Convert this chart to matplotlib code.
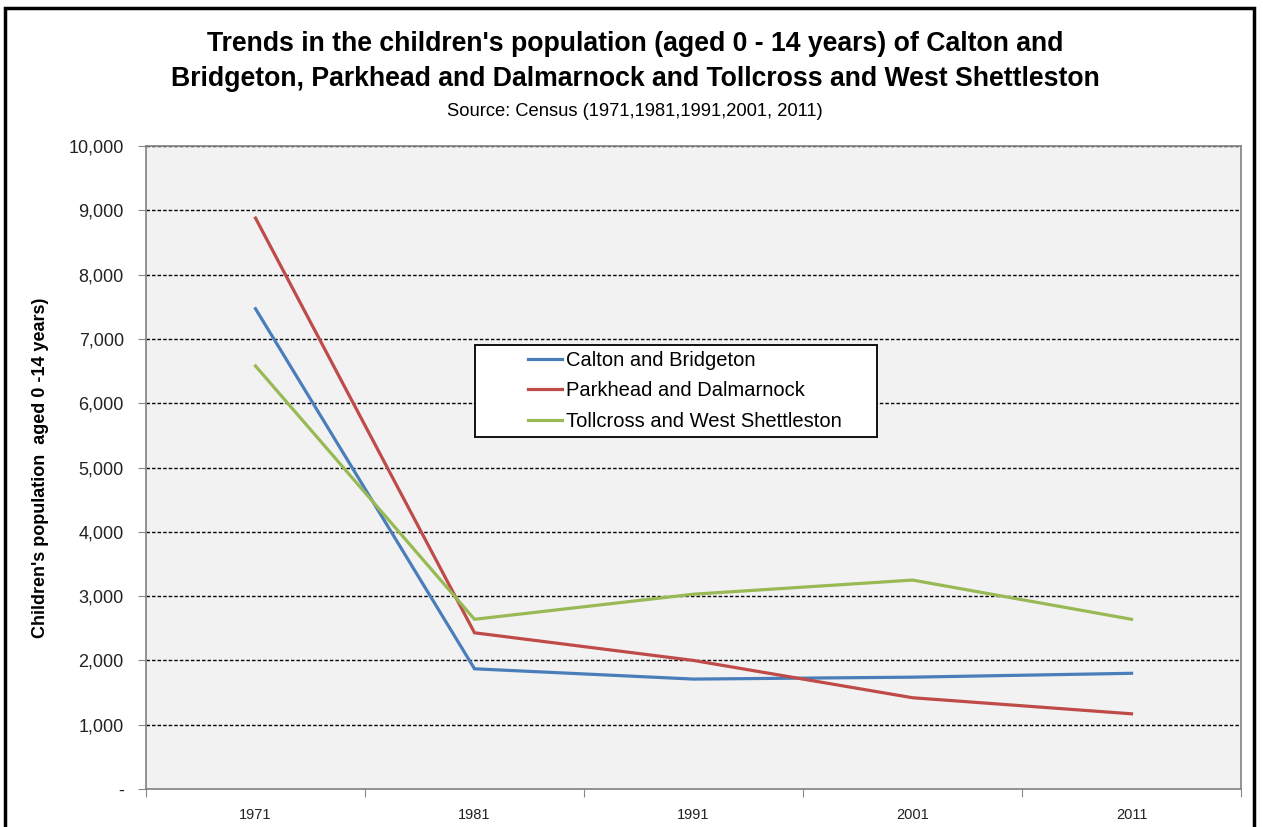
import numpy as np
import matplotlib.pyplot as plt
from matplotlib.patches import Rectangle
from matplotlib.ticker import FuncFormatter

years = ['1971', '1981', '1991', '2001', '2011']
calton = [7470, 1870, 1710, 1740, 1800]
parkhead = [8880, 2430, 2000, 1420, 1170]
tollcross = [6580, 2640, 3030, 3250, 2640]
series_names = ['Calton and Bridgeton', 'Parkhead and Dalmarnock', 'Tollcross and West Shettleston']
series_colors = ['#4A7EBB', '#BE4B48', '#98B954']

plt.rcParams['font.family'] = ['Liberation Sans', 'DejaVu Sans']

fig = plt.figure(figsize=(12.63, 8.27), dpi=100)
fig.patch.set_facecolor('white')

# outer frame of the chart object
fig.add_artist(Rectangle((0.004, -0.05), 0.989, 1.04, transform=fig.transFigure,
                         fill=False, edgecolor='black', linewidth=2.5))

ax = fig.add_axes([0.1156, 0.0459, 0.867, 0.7775])
ax.set_facecolor('#F2F2F2')

x = np.arange(len(years))
for vals, name, col in zip([calton, parkhead, tollcross], series_names, series_colors):
    ax.plot(x, vals, color=col, lw=2.3, label=name, solid_joinstyle='miter')

ax.set_xlim(-0.5, len(years) - 0.5)
ax.set_ylim(0, 10000)

# dashed gridlines
for v in range(1000, 10001, 1000):
    ax.axhline(v, color='black', lw=1.0, ls=(0, (2.5, 1.5)), zorder=0.5)

ax.set_yticks(range(0, 10001, 1000))
ax.yaxis.set_major_formatter(FuncFormatter(lambda v, p: '-' if v == 0 else f'{int(v):,}'))
ax.tick_params(axis='y', direction='out', length=6, color='#888888', labelsize=13,
               labelcolor='#222222', pad=10)

# category boundaries as ticks, labels centred in each band
ax.set_xticks(np.arange(-0.5, len(years), 1.0))
ax.set_xticklabels([])
ax.set_xticks(x, minor=True)
ax.set_xticklabels(years, minor=True)
ax.tick_params(axis='x', which='major', direction='out', length=6, color='#888888')
ax.tick_params(axis='x', which='minor', length=0, labelsize=10.5, pad=14, labelcolor='#222222')

for s in ax.spines.values():
    s.set_color('#808080')
    s.set_linewidth(1.2)

ax.set_ylabel("Children's population  aged 0 -14 years)", fontsize=13, fontweight='bold',
              labelpad=14)

# legend box drawn separately so it can be wider than its entries
ax.add_patch(Rectangle((0.300, 0.547), 0.368, 0.143, transform=ax.transAxes,
                       facecolor='white', edgecolor='black', lw=1.3, zorder=4))
leg = ax.legend(loc='upper left', bbox_to_anchor=(0.345, 0.688), fontsize=14.5,
                frameon=False, handlelength=1.7, handletextpad=0.2, labelspacing=0.58,
                borderpad=0.2, borderaxespad=0)
leg.set_zorder(5)

fig.text(0.503, 0.947, "Trends in the children's population (aged 0 - 14 years) of Calton and",
         ha='center', va='center', fontsize=19.2, fontweight='bold')
fig.text(0.503, 0.905, "Bridgeton, Parkhead and Dalmarnock and Tollcross and West Shettleston",
         ha='center', va='center', fontsize=19.2, fontweight='bold')
fig.text(0.503, 0.865, "Source: Census (1971,1981,1991,2001, 2011)",
         ha='center', va='center', fontsize=13.2)

fig.savefig('out.png', dpi=100, facecolor='white')
